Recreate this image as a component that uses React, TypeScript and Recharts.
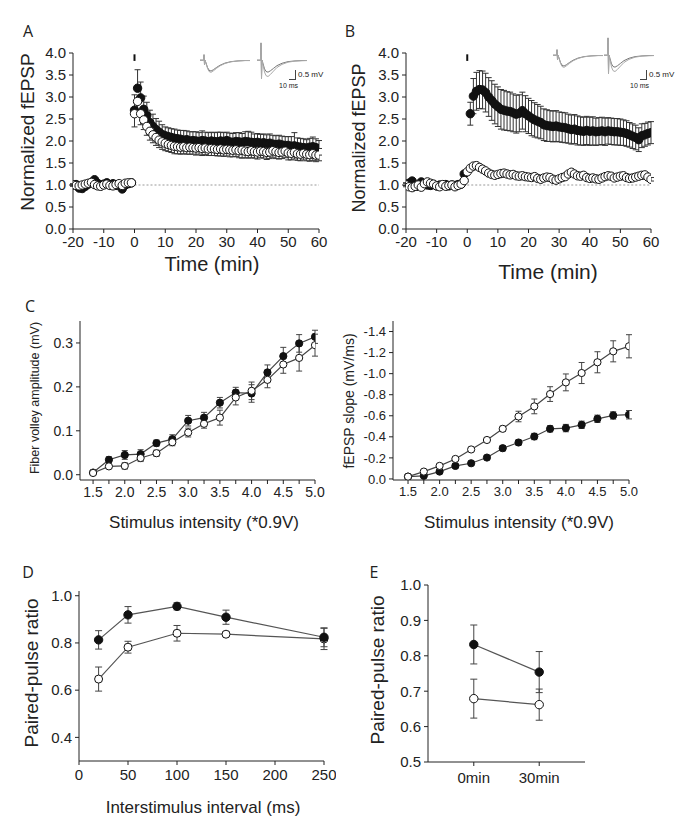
import React from "react";
import {
  ScatterChart,
  Scatter,
  XAxis,
  YAxis,
  ErrorBar,
  ReferenceLine,
  LineChart,
  Line,
} from "recharts";

// ---- A / B: time course (1 min bins) ----
const minutes = [
  -20, -19, -18, -17, -16, -15, -14, -13, -12, -11, -10, -9, -8, -7, -6, -5, -4, -3, -2, -1,
  0, 1, 2, 3, 4, 5, 6, 7, 8, 9, 10, 11, 12, 13, 14, 15, 16, 17, 18, 19, 20,
  21, 22, 23, 24, 25, 26, 27, 28, 29, 30, 31, 32, 33, 34, 35, 36, 37, 38, 39, 40,
  41, 42, 43, 44, 45, 46, 47, 48, 49, 50, 51, 52, 53, 54, 55, 56, 57, 58, 59, 60,
];

const aFilled = [
  1.0, 1.01, 0.93, 0.92, 0.97, 1.02, 1.05, 1.12, 1.04, 0.99, 1.02, 1.05, 1.0, 1.03, 0.99, 1.01, 0.91, 1.0, 1.03, 1.05,
  2.7, 3.2, 2.98, 2.72, 2.58, 2.42, 2.33, 2.26, 2.2, 2.15, 2.12, 2.1, 2.08, 2.06, 2.05, 2.04, 2.02, 2.03, 2.0, 2.01, 2.0,
  1.99, 2.01, 2.0, 1.98, 2.0, 1.99, 1.98, 2.0, 1.99, 2.01, 1.98, 1.97, 1.99, 1.98, 1.97, 1.99, 1.98, 1.97, 1.96, 1.97,
  1.95, 1.96, 1.94, 1.95, 1.93, 1.92, 1.93, 1.91, 1.9, 1.9, 1.88, 1.89, 1.87, 1.86, 1.85, 1.84, 1.86, 1.87, 1.85, 1.83,
];
const aFilledErr = [
  0.03, 0.03, 0.03, 0.03, 0.03, 0.03, 0.03, 0.03, 0.03, 0.03, 0.03, 0.03, 0.03, 0.03, 0.03, 0.03, 0.03, 0.03, 0.03, 0.03,
  0.35, 0.42, 0.36, 0.3, 0.3, 0.28, 0.28, 0.25, 0.25, 0.22, 0.2, 0.2, 0.2, 0.21, 0.2, 0.2, 0.22, 0.2, 0.21, 0.2, 0.21,
  0.2, 0.22, 0.2, 0.21, 0.2, 0.2, 0.22, 0.2, 0.2, 0.19, 0.2, 0.2, 0.2, 0.21, 0.2, 0.22, 0.24, 0.23, 0.2, 0.2,
  0.2, 0.2, 0.2, 0.21, 0.2, 0.2, 0.2, 0.2, 0.2, 0.2, 0.22, 0.3, 0.2, 0.2, 0.2, 0.19, 0.2, 0.22, 0.2, 0.18,
];
const aOpen = [
  1.0, 0.99, 0.98, 1.0, 1.02, 1.04, 1.06, 1.01, 0.98, 0.97, 1.0, 1.02, 0.99, 0.98, 1.01, 1.03, 0.99, 1.04, 1.05, 1.05,
  2.62, 2.9, 2.62, 2.48, 2.33, 2.22, 2.14, 2.08, 2.02, 1.98, 1.95, 1.92, 1.9, 1.88, 1.87, 1.86, 1.87, 1.85, 1.86, 1.85, 1.84,
  1.85, 1.83, 1.84, 1.82, 1.83, 1.82, 1.81, 1.82, 1.8, 1.81, 1.8, 1.79, 1.8, 1.78, 1.79, 1.77, 1.76, 1.78, 1.76, 1.75,
  1.77, 1.76, 1.74, 1.75, 1.78, 1.76, 1.74, 1.75, 1.77, 1.73, 1.72, 1.74, 1.71, 1.7, 1.72, 1.7, 1.69, 1.71, 1.68, 1.68,
];
const aOpenErr = [
  0.03, 0.03, 0.03, 0.03, 0.03, 0.03, 0.03, 0.03, 0.03, 0.03, 0.03, 0.03, 0.03, 0.03, 0.03, 0.03, 0.03, 0.03, 0.03, 0.03,
  0.3, 0.26, 0.25, 0.22, 0.2, 0.2, 0.18, 0.18, 0.17, 0.17, 0.17, 0.16, 0.16, 0.17, 0.16, 0.16, 0.16, 0.15, 0.16, 0.15, 0.16,
  0.15, 0.16, 0.15, 0.15, 0.16, 0.15, 0.15, 0.16, 0.15, 0.15, 0.16, 0.15, 0.15, 0.16, 0.18, 0.15, 0.15, 0.16, 0.15, 0.16,
  0.15, 0.15, 0.16, 0.15, 0.15, 0.16, 0.15, 0.15, 0.15, 0.16, 0.15, 0.15, 0.15, 0.15, 0.15, 0.15, 0.15, 0.15, 0.15, 0.13,
];

const bFilled = [
  1.02, 1.04, 1.09, 0.98, 0.97, 1.07, 1.02, 1.0, 0.99, 1.01, 0.98, 1.0, 0.99, 1.01, 0.98, 1.0, 0.99, 1.01, 1.02, 1.25,
  null, 2.62, 3.02, 3.13, 3.17, 3.16, 3.1, 3.0, 2.92, 2.84, 2.78, 2.72, 2.7, 2.68, 2.67, 2.64, 2.61, 2.63, 2.69, 2.62, 2.57,
  2.52, 2.48, 2.45, 2.42, 2.37, 2.35, 2.34, 2.33, 2.34, 2.32, 2.31, 2.3, 2.28, 2.26, 2.27, 2.24, 2.23, 2.22, 2.24, 2.22,
  2.23, 2.21, 2.22, 2.23, 2.21, 2.23, 2.22, 2.21, 2.21, 2.2, 2.19, 2.17, 2.14, 2.11, 2.08, 2.03, 2.12, 2.14, 2.17, 2.19,
];
const bFilledErr = [
  0.03, 0.03, 0.03, 0.03, 0.03, 0.03, 0.03, 0.03, 0.03, 0.03, 0.03, 0.03, 0.03, 0.03, 0.03, 0.03, 0.03, 0.03, 0.03, 0.05,
  0, 0.26, 0.4, 0.43, 0.43, 0.43, 0.44, 0.44, 0.45, 0.45, 0.45, 0.45, 0.45, 0.44, 0.44, 0.43, 0.43, 0.42, 0.42, 0.41, 0.4,
  0.4, 0.39, 0.38, 0.37, 0.36, 0.36, 0.35, 0.35, 0.35, 0.34, 0.34, 0.34, 0.33, 0.33, 0.33, 0.33, 0.32, 0.32, 0.32, 0.32,
  0.32, 0.31, 0.31, 0.31, 0.31, 0.3, 0.3, 0.3, 0.3, 0.3, 0.29, 0.29, 0.28, 0.28, 0.28, 0.27, 0.27, 0.26, 0.26, 0.25,
];
const bOpen = [
  1.0, 0.96, 0.94, 0.97, 1.0, 0.95, 1.03, 1.07, 1.04, 1.02, 0.98, 0.96, 1.01, 0.97, 0.99, 1.0, 0.96, 0.99, 1.02, 1.1,
  1.3, 1.38, 1.43, 1.44, 1.4, 1.36, 1.32, 1.27, 1.24, 1.22, 1.24, 1.26, 1.27, 1.25, 1.23, 1.24, 1.21, 1.2, 1.21, 1.19, 1.18,
  1.17, 1.19, 1.15, 1.13, 1.16, 1.18, 1.17, 1.13, 1.11, 1.14, 1.17, 1.19, 1.25, 1.29, 1.25, 1.21, 1.2, 1.22, 1.17, 1.15,
  1.16, 1.14, 1.13, 1.16, 1.19, 1.21, 1.2, 1.16, 1.18, 1.2, 1.21, 1.17, 1.15, 1.16, 1.18, 1.2, 1.22, 1.23, 1.18, 1.13,
];
const bOpenErr = 0.04;

// ---- inset traces (ms, mV) ----
const traceMs = [0, 7, 8, 9, 10, 12, 15, 18, 22, 27, 33, 40, 50, 62, 76, 90, 100];
const traceBefore = [0, 0, 0.3, -0.25, 0, -0.15, -0.4, -0.55, -0.6, -0.52, -0.4, -0.28, -0.16, -0.08, -0.04, -0.02, -0.02];
const traceAfterSmall = [0, 0, 0.3, -0.25, 0, -0.17, -0.45, -0.62, -0.67, -0.58, -0.45, -0.31, -0.18, -0.09, -0.04, -0.02, -0.02];
const traceBeforeBig = [0, 0, 0.95, -1.0, 0, -0.18, -0.48, -0.62, -0.66, -0.58, -0.45, -0.3, -0.17, -0.08, -0.04, -0.02, -0.02];
const traceAfterBig = [0, 0, 0.95, -1.0, 0, -0.25, -0.65, -0.85, -0.9, -0.78, -0.6, -0.4, -0.23, -0.11, -0.05, -0.03, -0.02];

// ---- C: input-output ----
const stim = [1.5, 1.75, 2.0, 2.25, 2.5, 2.75, 3.0, 3.25, 3.5, 3.75, 4.0, 4.25, 4.5, 4.75, 5.0];
const fvFilled = [0.005, 0.034, 0.045, 0.047, 0.072, 0.081, 0.123, 0.13, 0.164, 0.187, 0.185, 0.233, 0.27, 0.299, 0.314];
const fvFilledErr = [0.004, 0.007, 0.01, 0.01, 0.007, 0.01, 0.012, 0.012, 0.012, 0.012, 0.02, 0.017, 0.02, 0.02, 0.015];
const fvOpen = [0.004, 0.019, 0.02, 0.038, 0.049, 0.074, 0.096, 0.116, 0.13, 0.176, 0.191, 0.216, 0.251, 0.266, 0.295];
const fvOpenErr = [0.004, 0.005, 0.007, 0.008, 0.007, 0.008, 0.01, 0.01, 0.017, 0.017, 0.02, 0.018, 0.02, 0.03, 0.025];

const slopeOpen = [-0.022, -0.07, -0.124, -0.19, -0.28, -0.37, -0.476, -0.593, -0.689, -0.806, -0.917, -1.006, -1.108, -1.212, -1.26];
const slopeOpenErr = [0.01, 0.01, 0.015, 0.015, 0.02, 0.02, 0.025, 0.05, 0.07, 0.07, 0.08, 0.1, 0.1, 0.1, 0.11];
const slopeFilled = [-0.022, -0.03, -0.07, -0.124, -0.149, -0.203, -0.292, -0.346, -0.403, -0.476, -0.483, -0.514, -0.571, -0.603, -0.61];
const slopeFilledErr = [0.01, 0.01, 0.015, 0.02, 0.02, 0.02, 0.025, 0.025, 0.03, 0.03, 0.035, 0.035, 0.035, 0.035, 0.04];

// ---- D: paired-pulse vs interval ----
const isi = [20, 50, 100, 150, 250];
const ppFilled = [0.813, 0.919, 0.955, 0.909, 0.824];
const ppFilledErr = [0.039, 0.035, 0.015, 0.03, 0.04];
const ppOpen = [0.647, 0.782, 0.841, 0.837, 0.817];
const ppOpenErr = [0.051, 0.025, 0.033, 0.01, 0.045];

// ---- E: paired-pulse before / after ----
const eLabels = ["0min", "30min"];
const eFilled = [0.832, 0.754];
const eFilledErr = [0.055, 0.058];
const eOpen = [0.679, 0.662];
const eOpenErr = [0.055, 0.044];

const FONT = "'Liberation Sans', Arial, sans-serif";
const INK = "#222";

type Pt = { x: number; y: number; e: number | number[] };

function series(xs: number[], ys: (number | null)[], err: number | number[] | (number | number[])[], dir?: "up" | "down"): Pt[] {
  const out: Pt[] = [];
  xs.forEach((x, i) => {
    const y = ys[i];
    if (y === null || y === undefined) return;
    const raw = Array.isArray(err) ? (err as number[])[i] : err;
    const e = dir === "up" ? [0, raw as number] : dir === "down" ? [raw as number, 0] : raw;
    out.push({ x, y, e });
  });
  return out;
}

const dot = (r: number, filled: boolean) => (p: any) =>
  p.cx == null ? <g /> : (
    <circle cx={p.cx} cy={p.cy} r={r} fill={filled ? "#111" : "#fff"} stroke="#111" strokeWidth={1} />
  );

function box(x0: number, y0: number, x1: number, y1: number, yw = 60, xh = 30) {
  return {
    style: { position: "absolute" as const, left: x0 - yw, top: y0 - 10 },
    width: x1 - x0 + yw + 12,
    height: y1 - y0 + 10 + xh,
    margin: { top: 10, right: 12, left: 0, bottom: 0 },
    yw,
    xh,
  };
}

function Text({ x, y, size, rotate, children, family }: any) {
  return (
    <div
      style={{
        position: "absolute",
        left: x,
        top: y,
        transform: `translate(-50%, -50%)${rotate ? " rotate(-90deg)" : ""}`,
        fontSize: size,
        fontFamily: family || FONT,
        color: INK,
        whiteSpace: "nowrap",
        lineHeight: 1,
      }}
    >
      {children}
    </div>
  );
}

function Inset({ left, top, a, b }: { left: number; top: number; a: number[]; b: number[] }) {
  const data = traceMs.map((t, i) => ({ t, a: a[i], b: b[i] }));
  return (
    <div style={{ position: "absolute", left, top }}>
      <LineChart width={50} height={40} data={data} margin={{ top: 0, right: 0, left: 0, bottom: 0 }}>
        <XAxis dataKey="t" type="number" domain={[0, 100]} hide />
        <YAxis type="number" domain={[-1.2, 1]} hide allowDataOverflow />
        <Line dataKey="a" stroke="#777" strokeWidth={1} dot={false} isAnimationActive={false} />
        <Line dataKey="b" stroke="#aaa" strokeWidth={1} dot={false} isAnimationActive={false} />
      </LineChart>
    </div>
  );
}

function ScaleBar({ x, y }: { x: number; y: number }) {
  return (
    <>
      <div style={{ position: "absolute", left: x, top: y - 9, width: 6, height: 9, borderRight: "1px solid #444", borderBottom: "1px solid #444" }} />
      <div style={{ position: "absolute", left: x + 9, top: y - 9, fontSize: 8, fontFamily: FONT, color: INK, whiteSpace: "nowrap" }}>0.5 mV</div>
      <div style={{ position: "absolute", left: x - 10, top: y + 3, fontSize: 7, fontFamily: FONT, color: INK, whiteSpace: "nowrap" }}>10 ms</div>
    </>
  );
}

function TimeCourse({ x0, x1, filled, filledErr, open, openErr, filledDir, openDir, tick }: any) {
  const b = box(x0, 53, x1, 229, 60, 30);
  return (
    <div style={b.style}>
      <ScatterChart width={b.width} height={b.height} margin={b.margin}>
        <XAxis
          dataKey="x"
          type="number"
          domain={[-20, 60]}
          ticks={[-20, -10, 0, 10, 20, 30, 40, 50, 60]}
          interval={0}
          height={b.xh}
          tickSize={4}
          tickMargin={3}
          stroke={INK}
          tick={{ fill: INK, fontSize: tick, fontFamily: FONT }}
          allowDataOverflow
        />
        <YAxis
          dataKey="y"
          type="number"
          domain={[0, 4]}
          ticks={[0, 0.5, 1, 1.5, 2, 2.5, 3, 3.5, 4]}
          tickFormatter={(v: number) => v.toFixed(1)}
          interval={0}
          width={b.yw}
          tickSize={4}
          tickMargin={3}
          stroke={INK}
          tick={{ fill: INK, fontSize: tick, fontFamily: FONT }}
          allowDataOverflow
        />
        <ReferenceLine segment={[{ x: 0, y: 1 }, { x: 60, y: 1 }]} stroke="#999" strokeDasharray="2 2" />
        <ReferenceLine segment={[{ x: 0, y: 3.82 }, { x: 0, y: 3.97 }]} stroke="#111" strokeWidth={2} />
        <Scatter data={series(minutes, filled, filledErr, filledDir)} shape={dot(4.2, true)} isAnimationActive={false}>
          <ErrorBar dataKey="e" direction="y" width={3} stroke="#333" strokeWidth={1} />
        </Scatter>
        <Scatter data={series(minutes, open, openErr, openDir)} shape={dot(4.2, false)} isAnimationActive={false}>
          <ErrorBar dataKey="e" direction="y" width={3} stroke="#333" strokeWidth={1} />
        </Scatter>
      </ScatterChart>
    </div>
  );
}

function IOChart({ x0, x1, y0, y1, xDomain, yDomain, yTicks, reversed, a, aErr, bData, bErr, tick, fmt }: any) {
  const b = box(x0, y0, x1, y1, 55, 30);
  return (
    <div style={b.style}>
      <ScatterChart width={b.width} height={b.height} margin={b.margin}>
        <XAxis
          dataKey="x"
          type="number"
          domain={xDomain}
          ticks={stim}
          interval={0}
          tickFormatter={(v: number) => (Math.round(v * 100) % 50 === 0 ? v.toFixed(1) : "")}
          height={b.xh}
          tickSize={4}
          tickMargin={3}
          stroke={INK}
          tick={{ fill: INK, fontSize: tick, fontFamily: FONT }}
          allowDataOverflow
        />
        <YAxis
          dataKey="y"
          type="number"
          domain={yDomain}
          ticks={yTicks}
          reversed={reversed}
          tickFormatter={fmt}
          interval={0}
          width={b.yw}
          tickSize={4}
          tickMargin={3}
          stroke={INK}
          tick={{ fill: INK, fontSize: tick, fontFamily: FONT }}
          allowDataOverflow
        />
        <Scatter data={series(stim, a, aErr)} line={{ stroke: "#444", strokeWidth: 1.2 }} shape={dot(3.6, true)} isAnimationActive={false}>
          <ErrorBar dataKey="e" direction="y" width={3} stroke="#444" strokeWidth={1} />
        </Scatter>
        <Scatter data={series(stim, bData, bErr)} line={{ stroke: "#444", strokeWidth: 1.2 }} shape={dot(3.6, false)} isAnimationActive={false}>
          <ErrorBar dataKey="e" direction="y" width={3} stroke="#444" strokeWidth={1} />
        </Scatter>
      </ScatterChart>
    </div>
  );
}

function PanelD() {
  const b = box(79, 591, 324, 761, 55, 30);
  return (
    <div style={b.style}>
      <ScatterChart width={b.width} height={b.height} margin={b.margin}>
        <XAxis
          dataKey="x"
          type="number"
          domain={[0, 250]}
          ticks={[0, 50, 100, 150, 200, 250]}
          interval={0}
          height={b.xh}
          tickSize={4}
          tickMargin={4}
          stroke={INK}
          tick={{ fill: INK, fontSize: 15, fontFamily: FONT }}
        />
        <YAxis
          dataKey="y"
          type="number"
          domain={[0.3, 1.02]}
          ticks={[0.4, 0.6, 0.8, 1.0]}
          tickFormatter={(v: number) => v.toFixed(1)}
          interval={0}
          width={b.yw}
          tickSize={4}
          tickMargin={3}
          stroke={INK}
          tick={{ fill: INK, fontSize: 15, fontFamily: FONT }}
          allowDataOverflow
        />
        <Scatter data={series(isi, ppOpen, ppOpenErr)} line={{ stroke: "#555", strokeWidth: 1.2 }} shape={dot(4, false)} isAnimationActive={false}>
          <ErrorBar dataKey="e" direction="y" width={3.5} stroke="#444" strokeWidth={1} />
        </Scatter>
        <Scatter data={series(isi, ppFilled, ppFilledErr)} line={{ stroke: "#555", strokeWidth: 1.2 }} shape={dot(4.2, true)} isAnimationActive={false}>
          <ErrorBar dataKey="e" direction="y" width={3.5} stroke="#444" strokeWidth={1} />
        </Scatter>
      </ScatterChart>
    </div>
  );
}

function PanelE() {
  const b = box(428, 585, 585, 762, 55, 30);
  const xs = [0, 1];
  return (
    <div style={b.style}>
      <ScatterChart width={b.width} height={b.height} margin={b.margin}>
        <XAxis
          dataKey="x"
          type="number"
          domain={[-0.7, 1.7]}
          ticks={xs}
          tickFormatter={(v: number) => eLabels[v]}
          interval={0}
          height={b.xh}
          tickSize={4}
          tickMargin={6}
          stroke={INK}
          tick={{ fill: INK, fontSize: 15, fontFamily: FONT }}
        />
        <YAxis
          dataKey="y"
          type="number"
          domain={[0.5, 1.0]}
          ticks={[0.5, 0.6, 0.7, 0.8, 0.9, 1.0]}
          tickFormatter={(v: number) => v.toFixed(1)}
          interval={0}
          width={b.yw}
          tickSize={4}
          tickMargin={3}
          stroke={INK}
          tick={{ fill: INK, fontSize: 15, fontFamily: FONT }}
          allowDataOverflow
        />
        <Scatter data={series(xs, eFilled, eFilledErr)} line={{ stroke: "#555", strokeWidth: 1.2 }} shape={dot(4.2, true)} isAnimationActive={false}>
          <ErrorBar dataKey="e" direction="y" width={3.5} stroke="#444" strokeWidth={1} />
        </Scatter>
        <Scatter data={series(xs, eOpen, eOpenErr)} line={{ stroke: "#555", strokeWidth: 1.2 }} shape={dot(4.2, false)} isAnimationActive={false}>
          <ErrorBar dataKey="e" direction="y" width={3.5} stroke="#444" strokeWidth={1} />
        </Scatter>
      </ScatterChart>
    </div>
  );
}

export default function App() {
  return (
    <div style={{ position: "absolute", left: 0, top: 0, width: 685, height: 828, background: "#fff", overflow: "hidden" }}>
      {/* A */}
      <Text x={28} y={31} size={16} family="'Open Sans', sans-serif">A</Text>
      <TimeCourse x0={73} x1={319} filled={aFilled} filledErr={aFilledErr} open={aOpen} openErr={aOpenErr} filledDir="up" openDir="down" tick={15} />
      <Inset left={200} top={42} a={traceBefore} b={traceAfterSmall} />
      <Inset left={257} top={42} a={traceBeforeBig} b={traceAfterBig} />
      <ScaleBar x={289} y={79} />
      <Text x={27} y={132} size={19} rotate>Normalized fEPSP</Text>
      <Text x={212} y={264} size={20}>Time (min)</Text>

      {/* B */}
      <Text x={350} y={31} size={16} family="'Open Sans', sans-serif">B</Text>
      <TimeCourse x0={406} x1={651} filled={bFilled} filledErr={bFilledErr} open={bOpen} openErr={bOpenErr} tick={15} />
      <Inset left={553} top={37} a={traceBefore} b={traceAfterSmall} />
      <Inset left={604} top={37} a={traceBeforeBig} b={traceAfterBig} />
      <ScaleBar x={640} y={79} />
      <Text x={359} y={138} size={18} rotate>Normalized fEPSP</Text>
      <Text x={548} y={271} size={21}>Time (min)</Text>

      {/* C */}
      <Text x={30} y={306} size={16} family="'Open Sans', sans-serif">C</Text>
      <IOChart
        x0={80} x1={315} y0={321} y1={480}
        xDomain={[1.294, 5.0]} yDomain={[-0.012, 0.35]} yTicks={[0, 0.1, 0.2, 0.3]}
        fmt={(v: number) => v.toFixed(1)}
        a={fvFilled} aErr={fvFilledErr} bData={fvOpen} bErr={fvOpenErr} tick={14}
      />
      <Text x={35} y={398} size={12.5} rotate>Fiber volley amplitude (mV)</Text>
      <Text x={204} y={522} size={17}>Stimulus intensity (*0.9V)</Text>

      <IOChart
        x0={393} x1={629} y0={321} y1={480}
        xDomain={[1.262, 5.0]} yDomain={[-1.5, 0.01]} yTicks={[0, -0.2, -0.4, -0.6, -0.8, -1.0, -1.2, -1.4]}
        reversed
        fmt={(v: number) => (v === 0 ? "0.0" : v.toFixed(1))}
        a={slopeFilled} aErr={slopeFilledErr} bData={slopeOpen} bErr={slopeOpenErr} tick={13}
      />
      <Text x={349} y={401} size={14} rotate>fEPSP slope (mV/ms)</Text>
      <Text x={519} y={522} size={17}>Stimulus intensity (*0.9V)</Text>

      {/* D */}
      <Text x={28} y={572} size={16} family="'Open Sans', sans-serif">D</Text>
      <PanelD />
      <Text x={31} y={673} size={19} rotate>Paired-pulse ratio</Text>
      <Text x={203} y={807} size={17}>Interstimulus interval (ms)</Text>

      {/* E */}
      <Text x={374} y={572} size={16} family="'Open Sans', sans-serif">E</Text>
      <PanelE />
      <Text x={377} y={670} size={19} rotate>Paired-pulse ratio</Text>
    </div>
  );
}
